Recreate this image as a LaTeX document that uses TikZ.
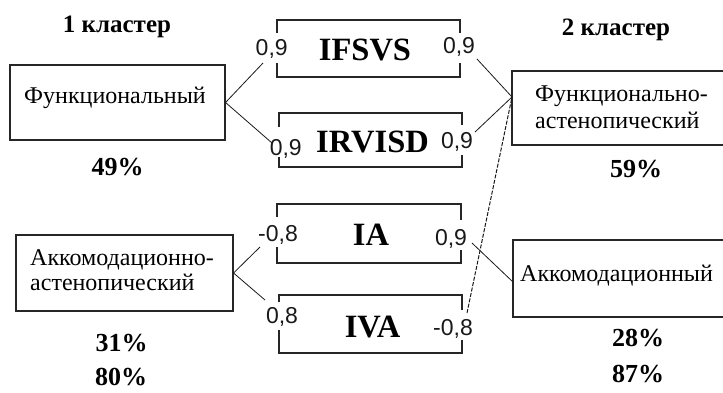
\documentclass[tikz,border=0pt]{standalone}
\usepackage{fontspec}
\setmainfont{Liberation Serif}
\newfontfamily\numfont{Liberation Sans}
\begin{document}
\begin{tikzpicture}[x=1pt,y=-1pt,
  box/.style={draw=black!85,line width=1.1pt,inner sep=0pt},
  btxt/.style={font=\fontsize{24}{28}\selectfont,anchor=base,inner sep=0pt},
  boldtxt/.style={font=\fontsize{25}{29}\selectfont\bfseries,anchor=base,inner sep=0pt},
  pcttxt/.style={font=\fontsize{26}{30}\selectfont\bfseries,anchor=base,inner sep=0pt},
  bigtxt/.style={font=\fontsize{32.5}{38}\selectfont\bfseries,anchor=base,inner sep=0pt},
  numtxt/.style={font=\numfont\fontsize{23}{27}\selectfont,anchor=base,inner sep=0pt,text=black!90},
  brk/.style={draw=black!85,line width=1.1pt},
  conn/.style={draw=black!90,line width=0.8pt},
  dconn/.style={conn,line width=1pt,dash pattern=on 4pt off 1.5pt}
]
\useasboundingbox (0,0) rectangle (723,392);

% cluster boxes
\node[box,minimum width=215pt,minimum height=75pt] (L1) at (117.5,102.5) {};
\node[btxt] (L1t) at (115,103.3) {Функциональный};
\node[box,minimum width=217pt,minimum height=76pt] (L2) at (124.5,273) {};
\node[btxt,anchor=base west] (L2a) at (30,265) {Аккомодационно-};
\node[btxt,anchor=base west] (L2b) at (30,290) {астенопический};
\node[box,minimum width=216pt,minimum height=74pt] (R1) at (620,108) {};
\node[btxt,anchor=base west] (R1a) at (535,101.7) {Функционально-};
\node[btxt,anchor=base west] (R1b) at (535,128) {астенопический};
\node[box,minimum width=215pt,minimum height=77pt] (R2) at (620.5,278.5) {};
\node[btxt,anchor=base west] (R2t) at (520,281.7) {Аккомодационный};

% titles and percentages
\node[boldtxt] (T1) at (117,32) {1 кластер};
\node[boldtxt] (T2) at (616,35) {2 кластер};
\node[pcttxt] (P1) at (117.5,175) {49\%};
\node[pcttxt] (P2) at (121.5,351.7) {31\%};
\node[pcttxt] (P3) at (121,385.5) {80\%};
\node[pcttxt] (P4) at (636,177) {59\%};
\node[pcttxt] (P5) at (638,346.7) {28\%};
\node[pcttxt] (P6) at (638,382) {87\%};

% indicator names
\node[bigtxt] (F1) at (365,60) {IFSVS};
\node[bigtxt] (F2) at (372.5,152) {IRVISD};
\node[bigtxt] (F3) at (371,245) {IA};
\node[bigtxt] (F4) at (372.5,337) {IVA};

% brackets
\draw[brk] (277,33) |- (460,20) -- (460,33);
\draw[brk] (277,63) |- (460,77) -- (460,63);
\draw[brk] (279,127) |- (462,113) -- (462,125);
\draw[brk] (279,157) |- (462,167) -- (462,155);
\draw[brk] (277,217) |- (461,204) -- (461,220);
\draw[brk] (277,247) |- (461,263) -- (461,250);
\draw[brk] (279,302) |- (462,295) -- (462,310);
\draw[brk] (279,330) |- (462,353) -- (462,340);

% coefficients
\node[numtxt] (a1) at (271.7,55) {0,9};
\node[numtxt] (b1) at (459,53) {0,9};
\node[numtxt] (a2) at (285.8,155) {0,9};
\node[numtxt] (b2) at (457,148) {0,9};
\node[numtxt] (a3) at (278,241.7) {-0,8};
\node[numtxt] (b3) at (451,245) {0,9};
\node[numtxt] (a4) at (282,323) {0,8};
\node[numtxt] (b4) at (453,335) {-0,8};

% connector ends
\coordinate (ca1) at (263,63);
\coordinate (ca2) at (272,143);
\coordinate (ca3) at (260,247);
\coordinate (ca4) at (265,300);
\coordinate (cb1) at (477,59);
\coordinate (cb2) at (475,132);
\coordinate (cb3) at (472,243);
\coordinate (cb4) at (467,313);
\coordinate (cr1) at (512,97);
\coordinate (cr2) at (513,282);

% connectors
\draw[conn] (L1.east) -- (ca1);
\draw[conn] (L1.east) -- (ca2);
\draw[conn] (L2.east) -- (ca3);
\draw[conn] (L2.east) -- (ca4);
\draw[conn] (cb1) -- (cr1);
\draw[conn] (cb2) -- (cr1);
\draw[dconn] (cb4) -- (cr1);
\draw[conn] (cb3) -- (cr2);
\end{tikzpicture}
\end{document}
